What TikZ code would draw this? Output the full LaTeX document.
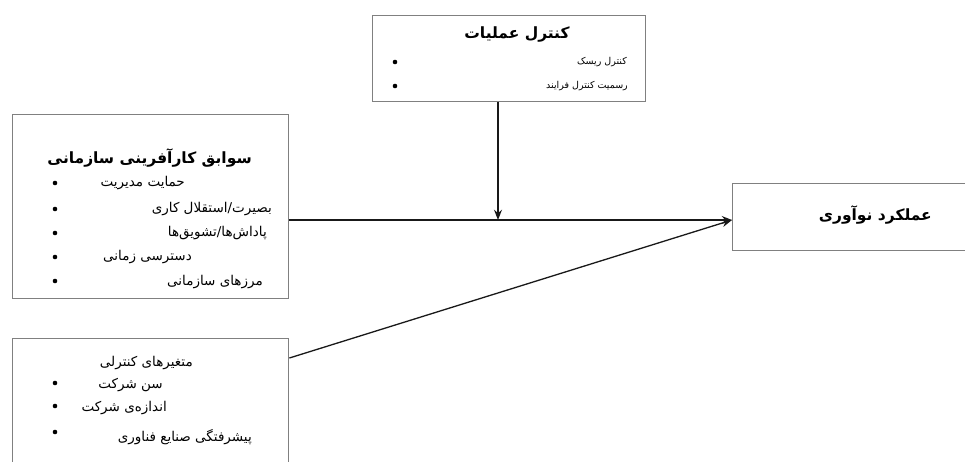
\documentclass[tikz,border=0pt]{standalone}
\usepackage{fontspec}
\newfontfamily\arabicfont[Script=Arabic]{DejaVu Sans}
\TeXXeTstate=1
\usetikzlibrary{positioning,arrows.meta}

\newcommand{\fa}[1]{\arabicfont\beginR #1\endR}

\begin{document}
\begin{tikzpicture}[
  x=1pt, y=-1pt,
  box/.style   ={rectangle, draw=black!50, line width=1.4pt, anchor=north west,
                 inner sep=0pt},
  head/.style  ={font=\fontsize{15.5}{18}\selectfont\bfseries, inner sep=0pt},
  item/.style  ={font=\fontsize{13.5}{16}\selectfont, inner sep=0pt, anchor=east},
  smallitem/.style={item, font=\fontsize{9.5}{11}\selectfont},
  dot/.style   ={circle, fill=black, minimum size=4.6pt, inner sep=0pt},
  arr/.style   ={-{Stealth[length=3.6mm, width=2.8mm]}, line width=1.3pt, black!90},
]
\useasboundingbox (0,0) rectangle (965,462);

% ---------------- boxes ----------------
\node[box, minimum width=273pt, minimum height=86pt] (ops)  at (372,15)  {};
\node[box, minimum width=276pt, minimum height=184pt] (ante) at (12,114) {};
\node[box, minimum width=276pt, minimum height=140pt] (ctl)  at (12,338) {};
\node[box, minimum width=240pt, minimum height=67pt]  (perf) at (732,183) {};

% ---------------- operations control ----------------
\node[head] (opsT) at (517,35) {\fa{کنترل عملیات}};
\node[smallitem] (ops1) at (627,62) {\fa{کنترل ریسک}};
\node[smallitem] (ops2) at (628,86) {\fa{رسمیت کنترل فرایند}};
\node[dot] at (395,62) {};
\node[dot] at (395,86) {};

% ---------------- antecedents ----------------
\node[head, anchor=east] (anteT) at (252,158) {\fa{سوابق کارآفرینی سازمانی}};
\node[item] (ante1) at (185,183) {\fa{حمایت مدیریت}};
\node[item] (ante2) at (272,209) {\fa{بصیرت/استقلال کاری}};
\node[item] (ante3) at (267,233) {\fa{پاداش‌ها/تشویق‌ها}};
\node[item] (ante4) at (192,257) {\fa{دسترسی زمانی}};
\node[item] (ante5) at (263,282) {\fa{مرزهای سازمانی}};
\foreach \y in {183,209,233,257,281}
  \node[dot] at (55,\y) {};

% ---------------- control variables ----------------
\node[item] (ctlT) at (193,363) {\fa{متغیرهای کنترلی}};
\node[item] (ctl1) at (163,385) {\fa{سن شرکت}};
\node[item] (ctl2) at (167,408) {\fa{اندازه‌ی شرکت}};
\node[item] (ctl3) at (252,437) {\fa{پیشرفتگی صنایع فناوری}};
\foreach \y in {383,406,432}
  \node[dot] at (55,\y) {};

% ---------------- outcome ----------------
\node[head, anchor=east] (perfT) at (932,215) {\fa{عملکرد نوآوری}};

% ---------------- connectors ----------------
\coordinate (anteOut) at (ante.east |- 0,220);
\coordinate (perfIn)  at (perf.west |- 0,220);
\coordinate (opsOut)  at (498,0 |- ops.south);
\coordinate (meet)    at (498,220);
\coordinate (ctlOut)  at (ctl.east |- 0,358);

\draw[arr] (anteOut) -- (perfIn);
\draw[arr] (opsOut) -- (meet);
\draw[arr] (ctlOut) -- (perfIn);

\end{tikzpicture}
\end{document}
